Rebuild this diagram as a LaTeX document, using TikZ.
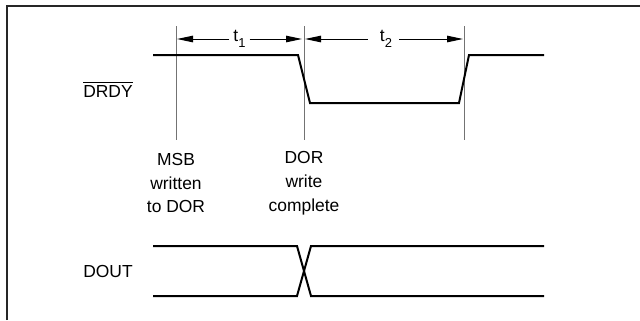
\documentclass[tikz,border=0pt]{standalone}
\usepackage{fontspec}
\setmainfont{Liberation Sans}
\usetikzlibrary{arrows.meta}
\newcommand{\tsub}[1]{t\raisebox{-5.5bp}{\fontsize{13}{13}\selectfont #1}}
\newcommand{\ovl}[1]{{\setbox0\hbox{#1}\rlap{\rule[\dimexpr\ht0+2.5bp\relax]{\wd0}{1bp}}\box0}}
\begin{document}
\begin{tikzpicture}[x=1bp,y=-1bp,
  sig/.style={line width=2bp,line join=miter},
  guide/.style={line width=1bp,draw=black!55},
  dim/.style={line width=1bp,-{Triangle[length=16bp,width=6.5bp]}},
  lbl/.style={font=\fontsize{17.5}{24}\selectfont,inner sep=0pt,align=center},
  frame/.style={line width=2bp,draw=black!85}]
\useasboundingbox (0,0) rectangle (640,320);
\fill[white] (0,0) rectangle (640,320);
\draw[frame] (7,320) -- (7,6) -- (640,6);
% guides
\coordinate (g1t) at (176,26); \coordinate (g1b) at (176,140);
\coordinate (g2t) at (304,26); \coordinate (g2b) at (304,140);
\coordinate (g3t) at (464,26); \coordinate (g3b) at (464,140);
\draw[guide] (g1t) -- (g1b);
\draw[guide] (g2t) -- (g2b);
\draw[guide] (g3t) -- (g3b);
% dimension labels
\node[lbl] (t1) at (239.5,39) {\tsub{1}};
\node[lbl] (t2) at (386,39) {\tsub{2}};
\coordinate (a1l) at (177,39); \coordinate (a1r) at (302,39);
\coordinate (a2l) at (305,39); \coordinate (a2r) at (463,39);
\draw[dim] (t1.west |- a1l) ++(-4,0) coordinate (t1w) -- (a1l);
\draw[dim] (t1.east |- a1r) ++(4,0) coordinate (t1e) -- (a1r);
\draw[dim] (t2.west |- a2l) ++(-12,0) coordinate (t2w) -- (a2l);
\draw[dim] (t2.east |- a2r) ++(7,0) coordinate (t2e) -- (a2r);
% DRDY
\node[lbl] (drdy) at (108,90) {\ovl{DRDY}};
\draw[sig] (153,55) -- (298,55) -- (310,103) -- (459,103) -- (469,55) -- (544,55);
% event labels
\node[lbl] (msb) at (176,183) {MSB\\written\\to DOR};
\node[lbl] (dor) at (304,183) {DOR\\write\\complete};
% DOUT
\node[lbl] (dout) at (108,271) {DOUT};
\draw[sig] (153,246) -- (297,246) -- (311,296) -- (544,296);
\draw[sig] (153,296) -- (297,296) -- (311,246) -- (544,246);
\end{tikzpicture}
\end{document}
